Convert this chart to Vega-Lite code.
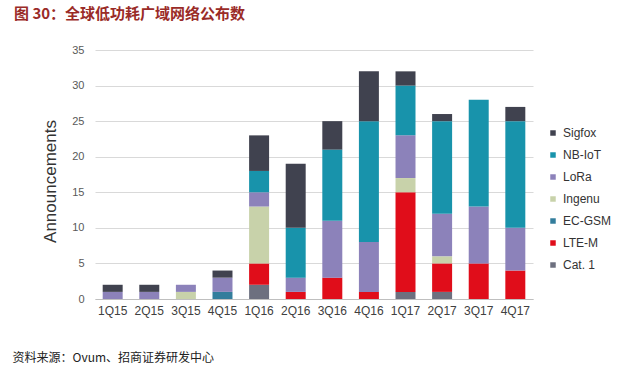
{
  "$schema": "https://vega.github.io/schema/vega-lite/v6.json",
  "width": 438,
  "height": 249,
  "padding": {"left": 12, "top": 7, "right": 5, "bottom": 5},
  "background": "white",
  "title": {
    "text": "图 30：全球低功耗广域网络公布数",
    "anchor": "start",
    "frame": "group",
    "dx": -81,
    "offset": 22,
    "font": "Noto Sans CJK SC",
    "fontSize": 15,
    "fontWeight": "bold",
    "color": "#9a2b27"
  },
  "data": {
    "values": [
      {"q": "1Q15", "tech": "LoRa", "v": 1, "o": 5},
      {"q": "1Q15", "tech": "Sigfox", "v": 1, "o": 7},
      {"q": "2Q15", "tech": "LoRa", "v": 1, "o": 5},
      {"q": "2Q15", "tech": "Sigfox", "v": 1, "o": 7},
      {"q": "3Q15", "tech": "Ingenu", "v": 1, "o": 4},
      {"q": "3Q15", "tech": "LoRa", "v": 1, "o": 5},
      {"q": "4Q15", "tech": "EC-GSM", "v": 1, "o": 3},
      {"q": "4Q15", "tech": "LoRa", "v": 2, "o": 5},
      {"q": "4Q15", "tech": "Sigfox", "v": 1, "o": 7},
      {"q": "1Q16", "tech": "Cat. 1", "v": 2, "o": 1},
      {"q": "1Q16", "tech": "LTE-M", "v": 3, "o": 2},
      {"q": "1Q16", "tech": "Ingenu", "v": 8, "o": 4},
      {"q": "1Q16", "tech": "LoRa", "v": 2, "o": 5},
      {"q": "1Q16", "tech": "NB-IoT", "v": 3, "o": 6},
      {"q": "1Q16", "tech": "Sigfox", "v": 5, "o": 7},
      {"q": "2Q16", "tech": "LTE-M", "v": 1, "o": 2},
      {"q": "2Q16", "tech": "LoRa", "v": 2, "o": 5},
      {"q": "2Q16", "tech": "NB-IoT", "v": 7, "o": 6},
      {"q": "2Q16", "tech": "Sigfox", "v": 9, "o": 7},
      {"q": "3Q16", "tech": "LTE-M", "v": 3, "o": 2},
      {"q": "3Q16", "tech": "LoRa", "v": 8, "o": 5},
      {"q": "3Q16", "tech": "NB-IoT", "v": 10, "o": 6},
      {"q": "3Q16", "tech": "Sigfox", "v": 4, "o": 7},
      {"q": "4Q16", "tech": "LTE-M", "v": 1, "o": 2},
      {"q": "4Q16", "tech": "LoRa", "v": 7, "o": 5},
      {"q": "4Q16", "tech": "NB-IoT", "v": 17, "o": 6},
      {"q": "4Q16", "tech": "Sigfox", "v": 7, "o": 7},
      {"q": "1Q17", "tech": "Cat. 1", "v": 1, "o": 1},
      {"q": "1Q17", "tech": "LTE-M", "v": 14, "o": 2},
      {"q": "1Q17", "tech": "Ingenu", "v": 2, "o": 4},
      {"q": "1Q17", "tech": "LoRa", "v": 6, "o": 5},
      {"q": "1Q17", "tech": "NB-IoT", "v": 7, "o": 6},
      {"q": "1Q17", "tech": "Sigfox", "v": 2, "o": 7},
      {"q": "2Q17", "tech": "Cat. 1", "v": 1, "o": 1},
      {"q": "2Q17", "tech": "LTE-M", "v": 4, "o": 2},
      {"q": "2Q17", "tech": "Ingenu", "v": 1, "o": 4},
      {"q": "2Q17", "tech": "LoRa", "v": 6, "o": 5},
      {"q": "2Q17", "tech": "NB-IoT", "v": 13, "o": 6},
      {"q": "2Q17", "tech": "Sigfox", "v": 1, "o": 7},
      {"q": "3Q17", "tech": "LTE-M", "v": 5, "o": 2},
      {"q": "3Q17", "tech": "LoRa", "v": 8, "o": 5},
      {"q": "3Q17", "tech": "NB-IoT", "v": 15, "o": 6},
      {"q": "4Q17", "tech": "LTE-M", "v": 4, "o": 2},
      {"q": "4Q17", "tech": "LoRa", "v": 6, "o": 5},
      {"q": "4Q17", "tech": "NB-IoT", "v": 15, "o": 6},
      {"q": "4Q17", "tech": "Sigfox", "v": 2, "o": 7}
    ]
  },
  "mark": {"type": "bar"},
  "encoding": {
    "x": {
      "field": "q",
      "type": "nominal",
      "sort": null,
      "scale": {"paddingInner": 0.454, "paddingOuter": 0.21},
      "axis": {
        "title": "资料来源：Ovum、招商证券研发中心",
        "titleFont": "Noto Sans CJK SC",
        "titleFontSize": 12,
        "titleFontWeight": "normal",
        "titleColor": "#222222",
        "titleAnchor": "start",
        "titleAlign": "left",
        "titleBaseline": "middle",
        "titleX": -83,
        "titleY": 58,
        "labelAngle": 0,
        "labelFont": "Liberation Sans",
        "labelFontSize": 12,
        "labelColor": "#404040",
        "labelPadding": 6,
        "ticks": false,
        "domainColor": "#bfbfbf",
        "domainWidth": 1
      }
    },
    "y": {
      "field": "v",
      "type": "quantitative",
      "stack": "zero",
      "scale": {"domain": [0, 35]},
      "axis": {
        "values": [0, 5, 10, 15, 20, 25, 30, 35],
        "title": "Announcements",
        "titleFont": "Liberation Sans",
        "titleFontSize": 17,
        "titleFontWeight": "normal",
        "titleColor": "#333333",
        "titleAngle": -90,
        "titleAlign": "center",
        "titleBaseline": "middle",
        "titleX": -45,
        "titleY": 131,
        "labelFont": "Liberation Sans",
        "labelFontSize": 11,
        "labelColor": "#595959",
        "labelPadding": 11,
        "ticks": false,
        "domain": false,
        "grid": true,
        "gridColor": "#d9d9d9",
        "gridWidth": 1
      }
    },
    "color": {
      "field": "tech",
      "type": "nominal",
      "scale": {
        "domain": ["Sigfox", "NB-IoT", "LoRa", "Ingenu", "EC-GSM", "LTE-M", "Cat. 1"],
        "range": ["#40424f", "#1893ab", "#8c82ba", "#c8d2aa", "#337d9c", "#e00d1a", "#6d707f"]
      },
      "legend": {
        "title": null,
        "orient": "none",
        "legendX": 452,
        "legendY": 77,
        "padding": 0,
        "symbolType": "square",
        "symbolSize": 30,
        "symbolStrokeWidth": 0,
        "labelFont": "Liberation Sans",
        "labelFontSize": 12,
        "labelColor": "#333333",
        "labelOffset": 4,
        "rowPadding": 10
      }
    },
    "order": {"field": "o", "type": "quantitative", "sort": "ascending"}
  },
  "config": {
    "view": {"stroke": null}
  }
}
